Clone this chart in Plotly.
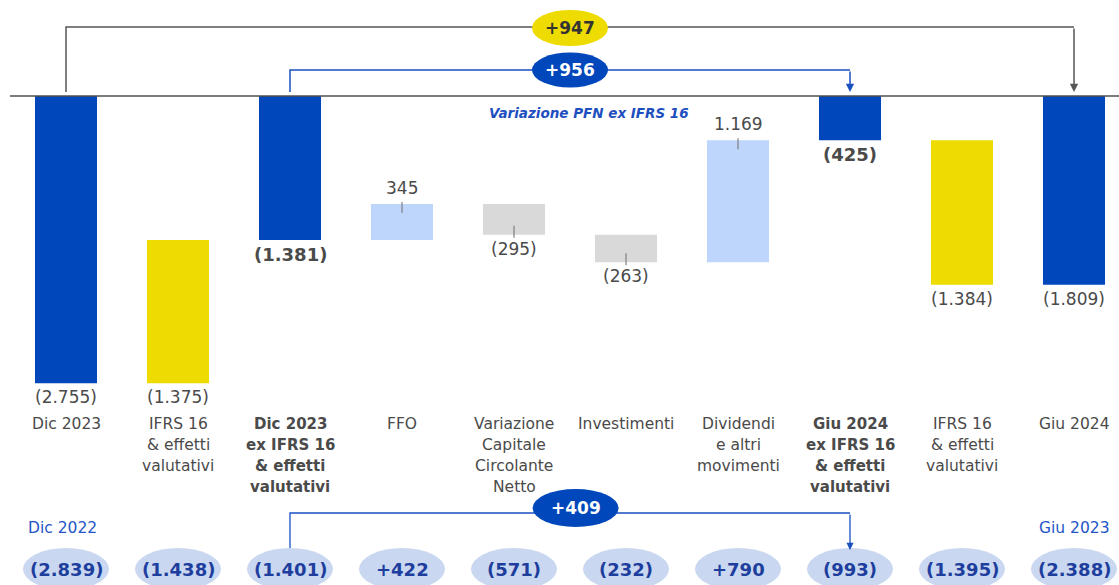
import plotly.graph_objects as go

W, H = 1119, 585

# ---- data -------------------------------------------------------------
categories = [
    "Dic 2023",
    "IFRS 16<br>& effetti<br>valutativi",
    "Dic 2023<br>ex IFRS 16<br>& effetti<br>valutativi",
    "FFO",
    "Variazione<br>Capitale<br>Circolante<br>Netto",
    "Investimenti",
    "Dividendi<br>e altri<br>movimenti",
    "Giu 2024<br>ex IFRS 16<br>& effetti<br>valutativi",
    "IFRS 16<br>& effetti<br>valutativi",
    "Giu 2024",
]
# net financial position figures (EUR m), negatives = debt
values = [-2755, -1375, -1381, 345, -295, -263, 1169, -425, -1384, -1809]
# total = level bar, out = IFRS effect removed, in = IFRS effect added back, flow = change
kinds = ["total", "out", "total", "flow", "flow", "flow", "flow", "total", "in", "total"]
bold_cats = [False, False, True, False, False, False, False, True, False, False]

prior_values = [-2839, -1438, -1401, 422, -571, -232, 790, -993, -1395, -2388]
prior_left_label = "Dic 2022"
prior_right_label = "Giu 2023"

bridge_total = 947       # Dic 2023 -> Giu 2024
bridge_ex_ifrs = 956     # ex IFRS 16 change
bridge_prior = 409       # prior-year comparison
bridge_caption = "Variazione PFN ex IFRS 16"

# ---- styling ----------------------------------------------------------
BLUE = "#0047BB"
YELLOW = "#EEDC00"
LIGHT = "#BFD6FC"
GREY = "#D9D9D9"
TEXT = "#4A4A4A"
PILL = "#C9D8F0"
PILL_TXT = "#1E3E9E"
LINK_BLUE = "#2456C8"
FONT = "DejaVu Sans"

color_of = {"total": BLUE, "out": YELLOW, "in": YELLOW}


def fmt(v, plus=False):
    s = f"{abs(v):,}".replace(",", ".")
    if v < 0:
        return f"({s})"
    return ("+" + s) if plus else s


def Y(py):
    """pixel row -> paper coordinate"""
    return 1 - py / H


# ---- waterfall geometry -------------------------------------------------
bases, heights, colors = [], [], []
running = 0
for v, k in zip(values, kinds):
    if k == "total":
        base, h = 0, v
        running = v
    else:
        h = -v if k == "out" else v
        base = running
        running += h
    bases.append(base)
    heights.append(h)
    if k == "flow":
        colors.append(LIGHT if v > 0 else GREY)
    else:
        colors.append(color_of[k])

xs = list(range(len(categories)))

fig = go.Figure(
    go.Bar(
        x=xs, y=heights, base=bases, width=0.554,
        marker=dict(color=colors, line=dict(width=0)),
        hoverinfo="skip",
    )
)

k_px = 144 / 1381  # pixels per unit
y_top = 96 / k_px
y_bot = -(H - 96) / k_px
x0 = -66 / 112
x1 = x0 + W / 112

fig.update_layout(
    width=W, height=H,
    margin=dict(l=0, r=0, t=0, b=0),
    paper_bgcolor="white", plot_bgcolor="white",
    showlegend=False,
    xaxis=dict(range=[x0, x1], visible=False, fixedrange=True),
    yaxis=dict(range=[y_bot, y_top], visible=False, fixedrange=True),
    font=dict(family=FONT, color=TEXT),
)

shapes = []
ann = []

# zero line
shapes.append(dict(type="line", xref="paper", yref="y", x0=10 / W, x1=1, y0=0, y1=0,
                   line=dict(color="#505050", width=1.5)))

# value labels and leader ticks
for i, (v, k, b, h) in enumerate(zip(values, kinds, bases, heights)):
    lo, hi = min(b, b + h), max(b, b + h)
    txt = fmt(v)
    size = 17
    if bold_cats[i]:
        txt = f"<b>{txt}</b>"
        size = 18
    if v < 0:
        ann.append(dict(x=i, y=lo, xref="x", yref="y", text=txt, showarrow=False,
                        yanchor="middle", yshift=-14, font=dict(size=size, color=TEXT)))
    else:
        ann.append(dict(x=i, y=hi, xref="x", yref="y", text=txt, showarrow=False,
                        yanchor="middle", yshift=16, font=dict(size=size, color=TEXT)))
    if k == "flow":
        if v > 0:
            a, p0, p1 = hi, 2, -9
        else:
            a, p0, p1 = lo, 9, -3
        shapes.append(dict(type="line", xref="x", yref="y", x0=i, x1=i,
                           ysizemode="pixel", yanchor=a, y0=p0, y1=p1,
                           line=dict(color="#7F7F7F", width=1.2)))

# category labels, one annotation per line for an even 21px leading
for i, c in enumerate(categories):
    for j, line in enumerate(c.split("<br>")):
        if bold_cats[i]:
            t, sz = f"<b>{line}</b>", 15
        else:
            t, sz = line, 15.5
        ann.append(dict(x=i, y=Y(424 + 21 * j), xref="x", yref="paper", text=t,
                        showarrow=False, yanchor="middle", xanchor="center",
                        font=dict(size=sz, color=TEXT)))


def bridge(i_from, i_to, py_start, py_level, py_tip, color, width):
    shapes.append(dict(type="path", xref="x", yref="paper",
                       path=f"M {i_from},{Y(py_start)} L {i_from},{Y(py_level)} L {i_to},{Y(py_level)}",
                       line=dict(color=color, width=width)))
    ann.append(dict(x=i_to, y=Y(py_tip), xref="x", yref="paper", text="",
                    showarrow=True, ax=0, ay=-(py_tip - py_level), arrowhead=2,
                    arrowsize=1.1, arrowwidth=width, arrowcolor=color, standoff=0))


def pill(xc, pyc, w, h, fill, text, tcolor, size):
    shapes.append(dict(type="circle", xref="x", yref="paper", xsizemode="pixel", xanchor=xc,
                       x0=-w / 2, x1=w / 2, y0=Y(pyc + h / 2), y1=Y(pyc - h / 2),
                       fillcolor=fill, line=dict(width=0), layer="above"))
    ann.append(dict(x=xc, y=Y(pyc), xref="x", yref="paper", text=f"<b>{text}</b>",
                    showarrow=False, xanchor="center", yanchor="middle",
                    font=dict(size=size, color=tcolor)))


# top bridges
bridge(0, 9, 92, 27, 92, "#555555", 1.5)
bridge(2, 7, 92, 70, 92, "#1A50C0", 1.5)
pill(4.5, 28, 76, 36, YELLOW, fmt(bridge_total, plus=True), "#333333", 17)
pill(4.5, 70, 76, 35, BLUE, fmt(bridge_ex_ifrs, plus=True), "white", 17)

ann.append(dict(x=(589 - 66) / 112, y=Y(113), xref="x", yref="paper",
                text=f"<b><i>{bridge_caption}</i></b>", showarrow=False,
                yanchor="middle", font=dict(size=13.5, color="#1E4FBF")))

# prior-year row
ann.append(dict(x=0, y=Y(528), xref="x", yref="paper", text=prior_left_label, showarrow=False,
                xshift=-4, yanchor="middle", font=dict(size=15.5, color=LINK_BLUE)))
ann.append(dict(x=9, y=Y(528), xref="x", yref="paper", text=prior_right_label, showarrow=False,
                yanchor="middle", font=dict(size=15.5, color=LINK_BLUE)))

bridge(2, 7, 548, 513, 550, "#1A50C0", 1.3)
for i, v in enumerate(prior_values):
    pill(i, 569, 86, 42, PILL, fmt(v, plus=True), PILL_TXT, 18)
pill(4.55, 508, 86, 38, BLUE, fmt(bridge_prior, plus=True), "white", 17)

fig.update_layout(shapes=shapes, annotations=ann)
fig.write_html("out.html")
